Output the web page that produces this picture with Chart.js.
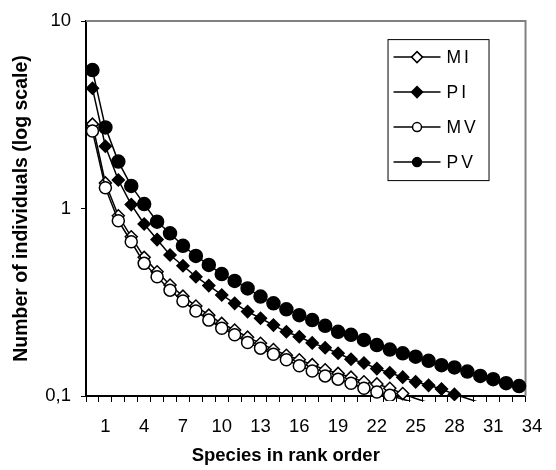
<!DOCTYPE html>
<html>
<head>
<meta charset="utf-8">
<script src="https://cdn.jsdelivr.net/npm/chart.js@4/dist/chart.umd.min.js"></script>
<style>
  html, body { margin: 0; padding: 0; background: #fff; }
</style>
</head>
<body>
<canvas id="chart" width="556" height="470"></canvas>
<script>
// species position along the axis
const rank = [0, 1, 2, 3, 4, 5, 6, 7, 8, 9, 10, 11, 12, 13, 14, 15, 16,
  17, 18, 19, 20, 21, 22, 23, 24, 25, 26, 27, 28, 29, 30, 31, 32, 33];
const xTicks = [1, 4, 7, 10, 13, 16, 19, 22, 25, 28, 31, 34];
const yTicks = [0.1, 1, 10];
const yTickLabels = ["0,1", "1", "10"];

const seriesNames = ["MI", "PI", "MV", "PV"];

// values below 0,1 run off the bottom of the plot (line only, no marker)
const MI = [2.82, 1.37, 0.915, 0.707, 0.549, 0.46, 0.391, 0.341, 0.302, 0.27,
  0.244, 0.225, 0.206, 0.191, 0.177, 0.165, 0.156, 0.147, 0.138, 0.132,
  0.126, 0.119, 0.116, 0.11, 0.103, 0.097, 0.092];
const PI = [4.38, 2.15, 1.42, 1.05, 0.827, 0.683, 0.565, 0.495, 0.433, 0.388,
  0.346, 0.312, 0.282, 0.26, 0.239, 0.22, 0.207, 0.192, 0.181, 0.169,
  0.157, 0.15, 0.14, 0.133, 0.126, 0.119, 0.114, 0.109, 0.102, 0.097, 0.092];
const MV = [2.59, 1.29, 0.861, 0.665, 0.51, 0.433, 0.367, 0.321, 0.284, 0.254,
  0.23, 0.212, 0.193, 0.18, 0.167, 0.156, 0.145, 0.136, 0.128, 0.123,
  0.117, 0.11, 0.105, 0.101, 0.096, 0.092];
const PV = [5.48, 2.71, 1.78, 1.32, 1.056, 0.851, 0.738, 0.633, 0.559, 0.5,
  0.447, 0.411, 0.375, 0.339, 0.312, 0.29, 0.27, 0.254, 0.237, 0.22,
  0.212, 0.199, 0.187, 0.177, 0.169, 0.162, 0.154, 0.146, 0.142, 0.135,
  0.128, 0.123, 0.117, 0.113];

const xTitle = "Species in rank order";
const yTitle = "Number of individuals (log scale)";

const FONT = '"Liberation Sans", Arial, sans-serif';
Chart.defaults.font.family = FONT;
Chart.defaults.color = "#000";

function makeSet(label, data, style, fill, radius, order) {
  return {
    label: label,
    data: data,
    borderColor: "#000",
    borderWidth: 1.5,
    pointStyle: style,
    pointBackgroundColor: fill,
    pointBorderColor: "#000",
    pointBorderWidth: 1.5,
    pointRadius: (c) => (c.raw < yTicks[0] ? 0 : radius),
    tension: 0,
    order: order,
    clip: { left: 10, top: 10, right: 10, bottom: 5 },
  };
}

function marker(ctx, style, x, y, r, fill) {
  ctx.beginPath();
  if (style === "circle") {
    ctx.arc(x, y, r, 0, Math.PI * 2);
  } else {
    ctx.moveTo(x - r, y);
    ctx.lineTo(x, y - r);
    ctx.lineTo(x + r, y);
    ctx.lineTo(x, y + r);
    ctx.closePath();
  }
  ctx.fillStyle = fill;
  ctx.fill();
  ctx.lineWidth = 1.5;
  ctx.strokeStyle = "#000";
  ctx.stroke();
}

// grey top + right edges of the plot area
const frame = {
  id: "frame",
  beforeDatasetsDraw(chart) {
    const { ctx, chartArea: a } = chart;
    ctx.save();
    ctx.strokeStyle = "#808080";
    ctx.lineWidth = 2;
    ctx.beginPath();
    ctx.moveTo(a.left, a.top);
    ctx.lineTo(a.right, a.top);
    ctx.lineTo(a.right, a.bottom);
    ctx.stroke();
    ctx.restore();
  },
};

const legendBox = {
  id: "legendBox",
  afterDatasetsDraw(chart) {
    const { ctx, chartArea: a } = chart;
    const left = a.right - 138, top = a.top + 18, w = 101, h = 141;
    ctx.save();
    ctx.fillStyle = "#fff";
    ctx.fillRect(left, top, w, h);
    ctx.strokeStyle = "#000";
    ctx.lineWidth = 1;
    ctx.strokeRect(left + 0.5, top + 0.5, w, h);
    ctx.font = "17.5px " + FONT;
    ctx.textBaseline = "middle";
    chart.data.datasets.forEach((ds, i) => {
      const y = top + 18 + i * 35;
      ctx.strokeStyle = "#000";
      ctx.lineWidth = 1.5;
      ctx.beginPath();
      ctx.moveTo(left + 6, y);
      ctx.lineTo(left + 53, y);
      ctx.stroke();
      marker(ctx, ds.pointStyle, left + 29.5, y, ds.pointStyle === "circle" ? 4.5 : 5.5, ds.pointBackgroundColor);
      ctx.fillStyle = "#000";
      ctx.letterSpacing = "3px";
      ctx.fillText(ds.label, left + 59, y + 1);
      ctx.letterSpacing = "0px";
    });
    ctx.restore();
  },
};

const xTitleDraw = {
  id: "xTitleDraw",
  afterDraw(chart) {
    const { ctx, chartArea: a } = chart;
    ctx.save();
    ctx.font = "bold 18.5px " + FONT;
    ctx.fillStyle = "#000";
    ctx.textAlign = "center";
    ctx.textBaseline = "middle";
    ctx.fillText(xTitle, (a.left + a.right) / 2 - 20, a.bottom + 60);
    ctx.restore();
  },
};

new Chart(document.getElementById("chart"), {
  type: "line",
  data: {
    labels: rank,
    datasets: [
      makeSet(seriesNames[0], MI, "rectRot", "#fff", 6, 4),
      makeSet(seriesNames[1], PI, "rectRot", "#000", 6, 3),
      makeSet(seriesNames[2], MV, "circle", "#fff", 6, 2),
      makeSet(seriesNames[3], PV, "circle", "#000", 6.5, 1),
    ],
  },
  options: {
    responsive: false,
    animation: false,
    events: [],
    layout: { padding: { left: 0, top: 21, right: 19, bottom: 0 } },
    plugins: {
      legend: { display: false },
      tooltip: { enabled: false },
    },
    scales: {
      x: {
        type: "linear",
        position: "bottom",
        weight: 0,
        min: -0.5,
        max: 33.5,
        afterBuildTicks: (s) => {
          s.ticks = rank.map((r) => ({ value: r - 0.5 }));
          s.ticks.push({ value: rank[rank.length - 1] + 0.5 });
        },
        afterFit: (s) => { s.height = 6; },
        ticks: { display: false },
        grid: { drawOnChartArea: false, tickLength: 6, color: "#000", lineWidth: 1 },
        border: { color: "#000", width: 2 },
      },
      x2: {
        type: "linear",
        position: "bottom",
        weight: 1,
        min: -0.5,
        max: 33.5,
        afterBuildTicks: (s) => {
          s.ticks = xTicks.map((v) => ({ value: v }));
        },
        afterFit: (s) => { s.height = 68; },
        ticks: {
          autoSkip: false,
          maxRotation: 0,
          padding: 14,
          font: { size: 18.5 },
          color: "#000",
          callback: (v) => v,
        },
        grid: { display: false, drawTicks: false },
        border: { display: false },
      },
      y: {
        type: "logarithmic",
        min: 0.1,
        max: 10,
        afterBuildTicks: (s) => {
          s.ticks = yTicks.map((v) => ({ value: v }));
        },
        afterFit: (s) => { s.width = 86; },
        ticks: {
          padding: 10,
          font: { size: 18.5 },
          color: "#000",
          callback: (v, i) => yTickLabels[i],
        },
        grid: { drawOnChartArea: false, tickLength: 5, color: "#000", lineWidth: 1 },
        border: { color: "#000", width: 2 },
        title: {
          display: true,
          text: yTitle,
          font: { size: 19.5, weight: "bold" },
          color: "#000",
          padding: { top: 10, bottom: 0 },
        },
      },
    },
  },
  plugins: [frame, legendBox, xTitleDraw],
});
</script>
</body>
</html>
